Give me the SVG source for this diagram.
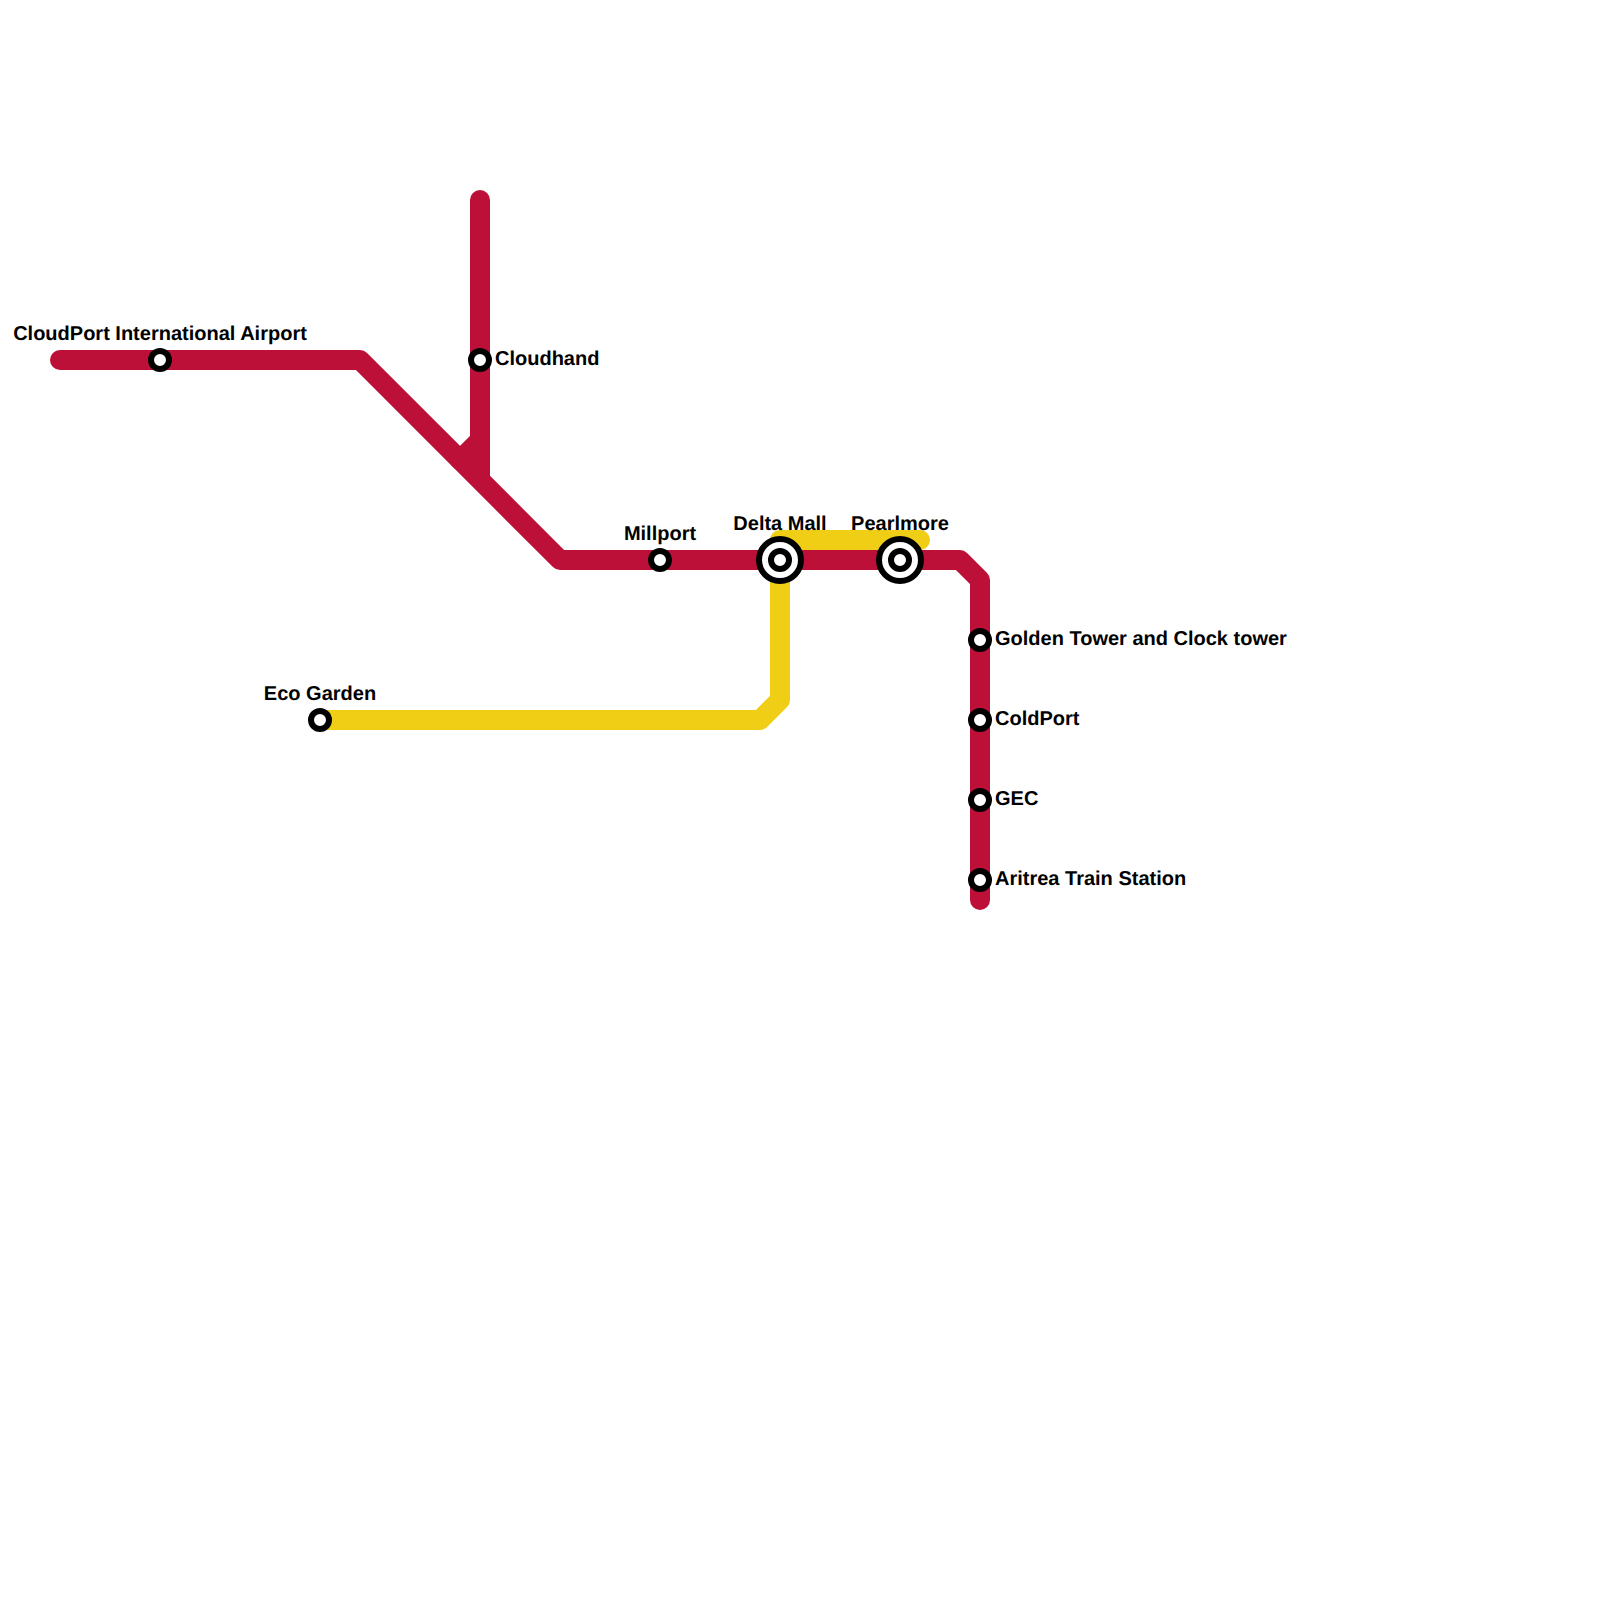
<svg xmlns="http://www.w3.org/2000/svg" width="1600" height="1600" viewBox="0 0 1600 1600">
<style>
.line{fill:none;stroke-width:20;stroke-linecap:round;stroke-linejoin:round}
.red{stroke:#bd1038}
.yellow{stroke:#f0ce15}
.ring{fill:#fff;stroke:#000;stroke-width:6}
.label{font-family:"Liberation Sans",Arial,sans-serif;font-weight:bold;font-size:20px;fill:#000;text-rendering:geometricPrecision}
.mid{text-anchor:middle}
</style>
<rect width="1600" height="1600" fill="#fff"/>
<g id="connectors">
<path class="line yellow" d="M320 720H760L780 700V540H920"/>
<path class="line red" d="M60 360H360L560 560H960L980 580V900"/>
<path class="line red" d="M480 200V476M480 440L460 460"/>
</g>
<g id="cloudport"><circle class="ring" cx="160" cy="360" r="9"/><text class="label mid" x="160" y="340">CloudPort International Airport</text></g>
<g id="cloudhand"><circle class="ring" cx="480" cy="360" r="9"/><text class="label" x="495" y="365">Cloudhand</text></g>
<g id="millport"><circle class="ring" cx="660" cy="560" r="9"/><text class="label mid" x="660" y="540">Millport</text></g>
<g id="delta-mall"><circle class="ring" cx="780" cy="560" r="21"/><circle class="ring" cx="780" cy="560" r="9"/><text class="label mid" x="780" y="530">Delta Mall</text></g>
<g id="pearlmore"><circle class="ring" cx="900" cy="560" r="21"/><circle class="ring" cx="900" cy="560" r="9"/><text class="label mid" x="900" y="530">Pearlmore</text></g>
<g id="eco-garden"><circle class="ring" cx="320" cy="720" r="9"/><text class="label mid" x="320" y="700">Eco Garden</text></g>
<g id="golden-tower"><circle class="ring" cx="980" cy="640" r="9"/><text class="label" x="995" y="645">Golden Tower and Clock tower</text></g>
<g id="coldport"><circle class="ring" cx="980" cy="720" r="9"/><text class="label" x="995" y="725">ColdPort</text></g>
<g id="gec"><circle class="ring" cx="980" cy="800" r="9"/><text class="label" x="995" y="805">GEC</text></g>
<g id="aritrea"><circle class="ring" cx="980" cy="880" r="9"/><text class="label" x="995" y="885">Aritrea Train Station</text></g>
</svg>
